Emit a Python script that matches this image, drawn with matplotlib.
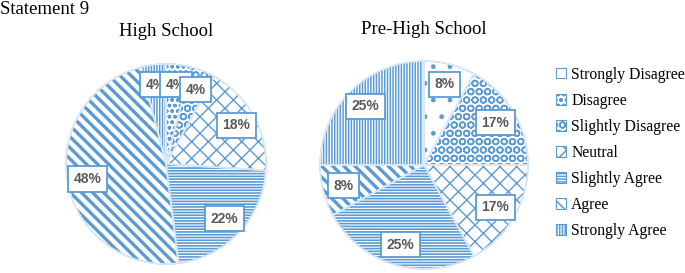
import matplotlib.pyplot as plt
from matplotlib.patches import Patch

plt.rcParams['font.family'] = ['Liberation Serif', 'DejaVu Serif']
plt.rcParams['hatch.linewidth'] = 1.1

categories = ['Strongly Disagree', 'Disagree', 'Slightly Disagree', 'Neutral',
              'Slightly Agree', 'Agree', 'Strongly Agree']
high_school = [0, 4, 4, 18, 22, 48, 4]
pre_high = [8, 0, 17, 17, 25, 8, 25]
hatches = ['.', 'ooo', 'OO', 'xx', '------', '\\\\\\', '||||||']
hatch_lw = [1.0, 1.0, 1.1, 1.0, 1.2, 2.4, 1.1]

blue = '#5B9BD5'
W, H = 685, 273

fig = plt.figure(figsize=(W / 100, H / 100), dpi=100)


def style_patch(p, h, lw):
    p.set_hatch(h)
    if hasattr(p, 'set_hatch_linewidth'):
        p.set_hatch_linewidth(lw)


def draw_pie(values, cx, cy, r, title, ty):
    ax = fig.add_axes([(cx - r) / W, (H - cy - r) / H, 2 * r / W, 2 * r / H])
    wedges, texts, autotexts = ax.pie(
        values, startangle=90, counterclock=False, radius=1,
        autopct=lambda p: '%d%%' % round(p) if p > 0.5 else '',
        pctdistance=0.8,
        wedgeprops=dict(facecolor='white', edgecolor=blue, linewidth=0.8),
        textprops=dict(family='Liberation Sans', fontweight='bold',
                       color='#595959', fontsize=10))
    for w, h, lw in zip(wedges, hatches, hatch_lw):
        style_patch(w, h, lw)
    # light border over the hatched wedges
    ax.pie(values, startangle=90, counterclock=False, radius=1,
           wedgeprops=dict(fill=False, edgecolor='#DCE9F6', linewidth=1.2))
    for i, t in enumerate(autotexts):
        t.set_bbox(dict(boxstyle='square,pad=0.4', facecolor='white',
                        edgecolor=blue, linewidth=1.3))
        t.set_zorder(3 + i)
    autotexts[-1].set_zorder(2.5)
    ax.set_xlim(-1.02, 1.02)
    ax.set_ylim(-1.02, 1.02)
    fig.text(cx / W, 1 - ty / H, title, ha='center', va='center', fontsize=13.5)
    return wedges


draw_pie(high_school, 166, 164, 102, 'High School', 32)
draw_pie(pre_high, 424, 165, 106, 'Pre-High School', 29)

fig.text(0.0, 0.997, 'Statement 9', ha='left', va='top', fontsize=13.5)

handles = []
for h, lw in zip(hatches, hatch_lw):
    p = Patch(facecolor='white', edgecolor=blue, linewidth=0.8)
    style_patch(p, h, lw)
    handles.append(p)
fig.legend(handles, categories, loc='center left',
           bbox_to_anchor=(550 / W, 0.44), frameon=False, fontsize=11.3,
           handlelength=0.65, handleheight=0.65, handletextpad=0.3,
           labelspacing=0.64, borderaxespad=0)

fig.savefig('out.png', dpi=100)
